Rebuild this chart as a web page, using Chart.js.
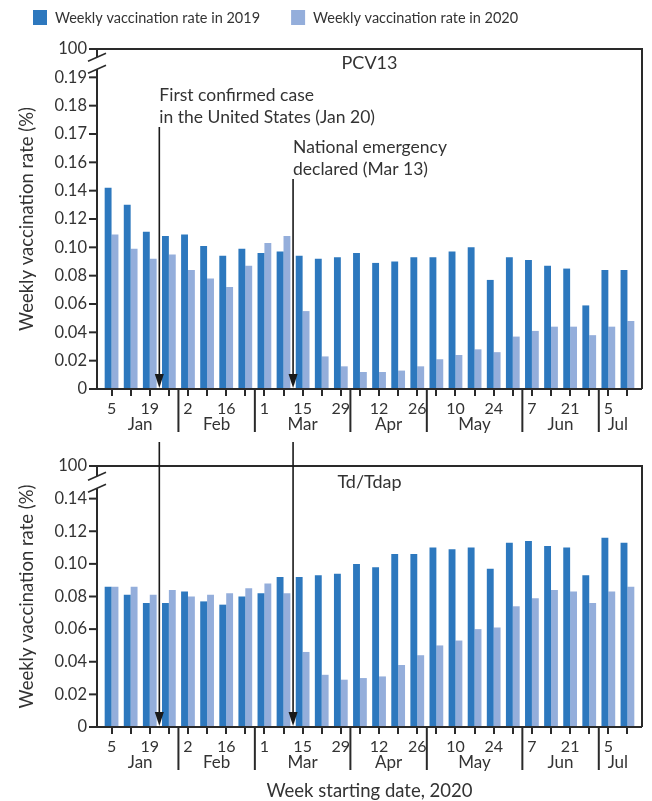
<!DOCTYPE html>
<html lang="en">
<head>
  <meta charset="UTF-8">
  <title>Weekly vaccination rate, PCV13 and Td/Tdap, 2019 vs 2020</title>
  <script src="https://cdn.jsdelivr.net/npm/chart.js"></script>
  <style>
    body { margin: 0; background: #fff; }
    .wrap { position: relative; width: 652px; height: 801px; overflow: hidden; }
    #pcv { position: absolute; left: 0; top: 0; }
    #tdap { position: absolute; left: 0; top: 440px; }
  </style>
</head>
<body>
  <div class="wrap">
    <canvas id="pcv" width="652" height="440"></canvas>
    <canvas id="tdap" width="652" height="361"></canvas>
  </div>

  <script>
    // weeks starting Jan 5 ... Jul 12, 2020
    const weekDays = ['5','12','19','26','2','9','16','23','1','8','15','22','29','5','12','19','26','3','10','17','24','31','7','14','21','28','5','12'];
    const weekMonths = ['Jan','Jan','Jan','Jan','Feb','Feb','Feb','Feb','Mar','Mar','Mar','Mar','Mar','Apr','Apr','Apr','Apr','May','May','May','May','May','Jun','Jun','Jun','Jun','Jul','Jul'];
    const seriesNames = ['Weekly vaccination rate in 2019', 'Weekly vaccination rate in 2020'];

    const pcv2019 = [0.142, 0.130, 0.111, 0.108, 0.109, 0.101, 0.094, 0.099, 0.096, 0.097, 0.094, 0.092, 0.093, 0.096, 0.089, 0.090, 0.093, 0.093, 0.097, 0.100, 0.077, 0.093, 0.091, 0.087, 0.085, 0.059, 0.084, 0.084];
    const pcv2020 = [0.109, 0.099, 0.092, 0.095, 0.084, 0.078, 0.072, 0.087, 0.103, 0.108, 0.055, 0.023, 0.016, 0.012, 0.012, 0.013, 0.016, 0.021, 0.024, 0.028, 0.026, 0.037, 0.041, 0.044, 0.044, 0.038, 0.044, 0.048];
    const tdap2019 = [0.086, 0.081, 0.076, 0.076, 0.083, 0.077, 0.075, 0.080, 0.082, 0.092, 0.092, 0.093, 0.094, 0.100, 0.098, 0.106, 0.106, 0.110, 0.109, 0.110, 0.097, 0.113, 0.114, 0.111, 0.110, 0.093, 0.116, 0.113];
    const tdap2020 = [0.086, 0.086, 0.081, 0.084, 0.080, 0.081, 0.082, 0.085, 0.088, 0.082, 0.046, 0.032, 0.029, 0.030, 0.031, 0.038, 0.044, 0.050, 0.053, 0.060, 0.061, 0.074, 0.079, 0.084, 0.083, 0.076, 0.083, 0.086];

    // axis labels as printed (the top step is a broken axis up to 100)
    const pcvTicks = ['0','0.02','0.04','0.06','0.08','0.10','0.12','0.14','0.16','0.17','0.18','0.19','100'];
    const tdapTicks = ['0','0.02','0.04','0.06','0.08','0.10','0.12','0.14','100'];

    // events: arrow drawn between week index `after` and the next one
    const eventAfter = [2, 9];
    const eventText = [['First confirmed case', 'in the United States (Jan 20)'], ['National emergency', 'declared (Mar 13)']];

    const dark = '#2d78be';
    const light = '#94aedb';
    const ink = '#2a2a2a';
    const FONT = 'Lato, "Open Sans", sans-serif';

    Chart.defaults.font.family = FONT;
    Chart.defaults.color = '#333';

    function arrow(ctx, px, y0, y1) {
      ctx.beginPath();
      ctx.moveTo(px, y0);
      ctx.lineTo(px, y1 - 12);
      ctx.stroke();
      ctx.beginPath();
      ctx.moveTo(px - 4.5, y1 - 14);
      ctx.lineTo(px + 4.5, y1 - 14);
      ctx.lineTo(px, y1);
      ctx.closePath();
      ctx.fill();
    }

    function decor(opts) {
      return {
        id: 'decor',
        afterDraw(chart) {
          const { ctx, chartArea: a, scales: { x, y } } = chart;
          const L = a.left - 5, R = a.right + 5;
          ctx.save();
          ctx.strokeStyle = ink;
          ctx.fillStyle = ink;
          ctx.lineWidth = 2;

          // frame: top and right
          ctx.beginPath();
          ctx.moveTo(L, a.top); ctx.lineTo(R, a.top); ctx.lineTo(R, a.bottom);
          ctx.stroke();
          // x axis
          ctx.beginPath();
          ctx.moveTo(L, a.bottom); ctx.lineTo(R, a.bottom);
          ctx.stroke();

          // y tick marks
          y.ticks.forEach(t => {
            const py = y.getPixelForValue(t.value);
            ctx.beginPath(); ctx.moveTo(L - 8, py); ctx.lineTo(L, py); ctx.stroke();
          });

          // y axis with break
          const n = y.ticks.length;
          const pLow = y.getPixelForValue(y.ticks[n - 2].value);
          const mid = (pLow + a.top) / 2;
          ctx.beginPath();
          ctx.moveTo(L, a.bottom); ctx.lineTo(L, mid + 6);
          ctx.moveTo(L, mid - 6); ctx.lineTo(L, a.top);
          ctx.stroke();
          ctx.lineWidth = 1.6;
          [mid + 6, mid - 6].forEach(by => {
            ctx.beginPath(); ctx.moveTo(L - 9, by + 4); ctx.lineTo(L + 9, by - 4); ctx.stroke();
          });

          // month separators and labels
          ctx.lineWidth = 2;
          ctx.font = '17px ' + FONT;
          ctx.textAlign = 'center';
          ctx.textBaseline = 'middle';
          let start = 0;
          for (let i = 1; i <= weekMonths.length; i++) {
            if (i === weekMonths.length || weekMonths[i] !== weekMonths[i - 1]) {
              const cx = (x.getPixelForValue(start) + x.getPixelForValue(i - 1)) / 2;
              ctx.fillStyle = '#333';
              ctx.fillText(weekMonths[start], cx, a.bottom + 36);
              if (i < weekMonths.length) {
                const sx = (x.getPixelForValue(i - 1) + x.getPixelForValue(i)) / 2;
                ctx.beginPath(); ctx.moveTo(sx, a.bottom); ctx.lineTo(sx, a.bottom + 43); ctx.stroke();
              }
              start = i;
            }
          }

          // panel title
          ctx.font = '18px ' + FONT;
          ctx.fillText(opts.title, (L + R) / 2, a.top + opts.titleDy);

          // event arrows
          ctx.strokeStyle = '#1a1a1a';
          ctx.fillStyle = '#1a1a1a';
          ctx.lineWidth = 1.6;
          eventAfter.forEach((k, j) => {
            const px = (x.getPixelForValue(k) + x.getPixelForValue(k + 1)) / 2;
            if (opts.eventText) {
              const t0 = a.top + opts.eventTop[j];
              arrow(ctx, px, t0 + 32, a.bottom - 1);
              ctx.fillStyle = '#333';
              ctx.font = '17.5px ' + FONT;
              ctx.textAlign = 'left';
              eventText[j].forEach((line, m) => ctx.fillText(line, px, t0 + m * 22));
              ctx.fillStyle = '#1a1a1a';
            } else {
              arrow(ctx, px, 2, a.bottom - 1);
            }
          });

          // legend
          if (opts.legend) {
            ctx.font = '14.5px ' + FONT;
            ctx.textAlign = 'left';
            let lx = 33;
            chart.data.datasets.forEach(ds => {
              ctx.fillStyle = ds.backgroundColor;
              ctx.fillRect(lx, 10, 14, 15);
              ctx.fillStyle = '#333';
              ctx.fillText(ds.label, lx + 22, 18);
              lx += 22 + ctx.measureText(ds.label).width + 31;
            });
          }
          ctx.restore();
        }
      };
    }

    function makeChart(id, d19, d20, tickLabels, opts) {
      const yMax = (tickLabels.length - 1) * 0.02;
      return new Chart(document.getElementById(id), {
        type: 'bar',
        data: {
          labels: weekDays,
          datasets: [
            { label: seriesNames[0], data: d19, backgroundColor: dark, categoryPercentage: 0.72, barPercentage: 1.0 },
            { label: seriesNames[1], data: d20, backgroundColor: light, categoryPercentage: 0.72, barPercentage: 1.0 }
          ]
        },
        options: {
          responsive: false,
          animation: false,
          layout: { padding: { top: opts.padTop, right: 15, left: 0, bottom: 0 } },
          plugins: { legend: { display: false }, tooltip: { enabled: false } },
          scales: {
            x: {
              grid: { offset: false, drawOnChartArea: false, drawTicks: true, tickLength: 7, color: ink, lineWidth: 2 },
              border: { display: false },
              ticks: {
                autoSkip: false, maxRotation: 0, padding: 3,
                font: { size: 16 }, color: '#333',
                callback: (v, i) => (i % 2 === 0 ? weekDays[i] : '')
              },
              title: opts.xTitle
                ? { display: true, text: 'Week starting date, 2020', font: { size: 18.5 }, color: '#333', padding: { top: 0, bottom: -1 } }
                : { display: false },
              afterFit: s => { s.height = opts.xHeight; }
            },
            y: {
              min: 0, max: yMax,
              ticks: {
                stepSize: 0.02, padding: 15, font: { size: 16.5 }, color: '#333',
                callback: (v, i) => tickLabels[i]
              },
              grid: { display: false, drawTicks: false, tickLength: 0 },
              border: { display: false },
              title: { display: true, text: 'Weekly vaccination rate (%)', font: { size: 18.5 }, color: '#333', padding: { top: 16, bottom: 0 } },
              afterFit: s => { s.width = 102; }
            }
          }
        },
        plugins: [decor(opts)]
      });
    }

    makeChart('pcv', pcv2019, pcv2020, pcvTicks, {
      padTop: 49, xHeight: 51, title: 'PCV13', titleDy: 14,
      eventText: true, eventTop: [46, 98], legend: true, xTitle: false
    });
    makeChart('tdap', tdap2019, tdap2020, tdapTicks, {
      padTop: 26, xHeight: 74, title: 'Td/Tdap', titleDy: 16,
      eventText: false, legend: false, xTitle: true
    });
  </script>
</body>
</html>
